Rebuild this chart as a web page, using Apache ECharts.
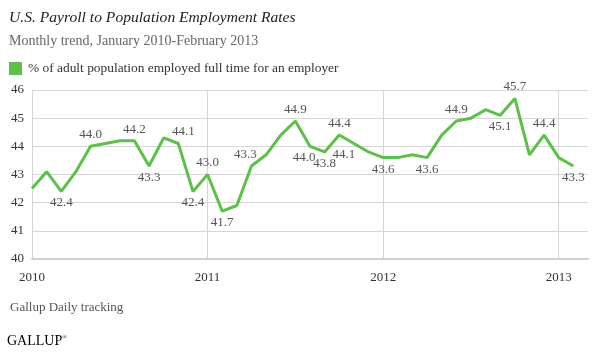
<!DOCTYPE html>
<html>
<head>
<meta charset="utf-8">
<script src="https://cdn.jsdelivr.net/npm/echarts@6/dist/echarts.min.js"></script>
<style>
  html, body { margin: 0; padding: 0; background: #fff; }
  #chart { width: 594px; height: 354px; }
</style>
</head>
<body>
<div id="chart"></div>
<script>
// monthly values, Jan 2010 .. Feb 2013
const months = [
  'Jan 2010', 'Feb 2010', 'Mar 2010', 'Apr 2010', 'May 2010', 'Jun 2010',
  'Jul 2010', 'Aug 2010', 'Sep 2010', 'Oct 2010', 'Nov 2010', 'Dec 2010',
  'Jan 2011', 'Feb 2011', 'Mar 2011', 'Apr 2011', 'May 2011', 'Jun 2011',
  'Jul 2011', 'Aug 2011', 'Sep 2011', 'Oct 2011', 'Nov 2011', 'Dec 2011',
  'Jan 2012', 'Feb 2012', 'Mar 2012', 'Apr 2012', 'May 2012', 'Jun 2012',
  'Jul 2012', 'Aug 2012', 'Sep 2012', 'Oct 2012', 'Nov 2012', 'Dec 2012',
  'Jan 2013', 'Feb 2013'
]
const rates = [
  42.5, 43.1, 42.4, 43.1, 44.0, 44.1, 44.2, 44.2, 43.3, 44.3, 44.1, 42.4,
  43.0, 41.7, 41.9, 43.3, 43.7, 44.4, 44.9, 44.0, 43.8, 44.4, 44.1, 43.8,
  43.6, 43.6, 43.7, 43.6, 44.4, 44.9, 45.0, 45.3, 45.1, 45.7, 43.7, 44.4,
  43.6, 43.3
]
// which points carry a value label
const labelsAbove = ['May 2010', 'Aug 2010', 'Nov 2010', 'Jan 2011', 'Apr 2011', 'Jul 2011',
  'Oct 2011', 'Jun 2012', 'Oct 2012', 'Dec 2012']
const labelsBelow = ['Mar 2010', 'Sep 2010', 'Dec 2010', 'Feb 2011', 'Aug 2011', 'Sep 2011',
  'Nov 2011', 'Jan 2012', 'Apr 2012', 'Sep 2012', 'Feb 2013']
const yearTicks = ['2010', '2011', '2012', '2013']

const serif = '"Liberation Serif", "DejaVu Serif", serif'
const green = '#5fbf4c'
// small sideways nudges so crowded labels sit like the original
const labelNudge = { 'Nov 2010': 5, 'Apr 2011': -6, 'Aug 2011': -6, 'Nov 2011': -10 }

const seriesData = rates.map((v, i) => {
  const m = months[i]
  const item = { value: [i, v] }
  const dx = labelNudge[m] || 0
  if (labelsAbove.includes(m)) {
    item.label = { show: true, position: 'top', distance: 5, offset: [dx, 0] }
  } else if (labelsBelow.includes(m)) {
    item.label = { show: true, position: 'bottom', distance: 5, offset: [dx, 0] }
  }
  return item
})

const chart = echarts.init(document.getElementById('chart'), null, { renderer: 'canvas' })

chart.setOption({
  animation: false,
  textStyle: { fontFamily: serif },
  title: [{
    text: 'U.S. Payroll to Population Employment Rates',
    left: 4,
    top: 5,
    textStyle: { fontFamily: serif, fontStyle: 'italic', fontWeight: 'normal', fontSize: 15.6, color: '#222' }
  }, {
    text: 'Monthly trend, January 2010-February 2013',
    left: 4,
    top: 29,
    textStyle: { fontFamily: serif, fontWeight: 'normal', fontSize: 14, color: '#666' }
  }],
  legend: {
    left: 4,
    top: 57,
    icon: 'rect',
    itemWidth: 13,
    itemHeight: 13,
    itemGap: 6,
    textStyle: { fontFamily: serif, fontSize: 13.4, color: '#333', padding: [0, 0, 0, 1] },
    data: ['% of adult population employed full time for an employer']
  },
  grid: { left: 32, right: 6, top: 90, bottom: 95 },
  xAxis: {
    type: 'value',
    min: 0,
    max: 38,
    interval: 12,
    axisLine: { show: true, lineStyle: { color: '#cfcfcb', width: 2 } },
    axisTick: { show: false },
    axisLabel: {
      color: '#333',
      fontFamily: serif,
      fontSize: 13,
      margin: 12,
      showMaxLabel: false,
      formatter: v => (v % 12 === 0 ? yearTicks[v / 12] : '')
    },
    splitLine: { show: true, showMaxLine: false, lineStyle: { color: '#d6d6d6', width: 1 } }
  },
  yAxis: {
    type: 'value',
    min: 40,
    max: 46,
    interval: 1,
    axisLine: { show: false },
    axisTick: { show: false },
    axisLabel: { color: '#333', fontFamily: serif, fontSize: 13, margin: 8 },
    splitLine: { lineStyle: { color: '#d6d6d6', width: 1 } }
  },
  series: [{
    name: '% of adult population employed full time for an employer',
    type: 'line',
    data: seriesData,
    symbol: 'circle',
    symbolSize: 0,
    showSymbol: true,
    itemStyle: { color: green },
    lineStyle: { color: green, width: 3 },
    label: {
      show: false,
      color: '#555',
      fontFamily: serif,
      fontSize: 13,
      formatter: p => p.value[1].toFixed(1)
    }
  }],
  graphic: [{
    type: 'text',
    left: 10,
    top: 301,
    style: { text: 'Gallup Daily tracking', fontFamily: serif, fontSize: 13, fill: '#555' }
  }, {
    type: 'text',
    left: 7,
    top: 334,
    style: {
      text: '{a|GALLUP}{b|®}',
      rich: {
        a: { fontFamily: serif, fontSize: 14, color: '#666' },
        b: { fontFamily: serif, fontSize: 6, color: '#666', verticalAlign: 'top', padding: [0, 0, 6, 0] }
      }
    }
  }]
})
</script>
</body>
</html>
